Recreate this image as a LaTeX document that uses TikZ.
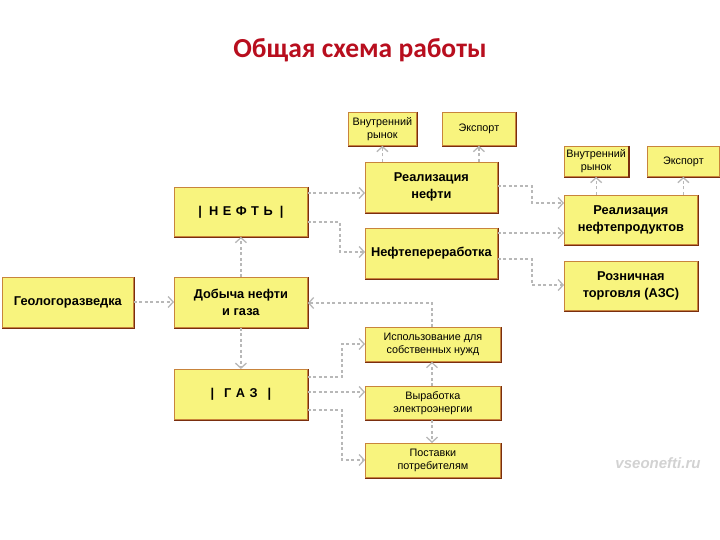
\documentclass[tikz,border=0pt]{standalone}
\usepackage{fontspec}
\setmainfont{Liberation Sans}
\newfontfamily\titlefont{Carlito}
\usetikzlibrary{arrows.meta}
\definecolor{boxfill}{HTML}{F8F47E}
\definecolor{boxline}{HTML}{C8843C}
\definecolor{boxshade}{HTML}{7A2E0E}
\definecolor{conn}{HTML}{B8B8B8}
\definecolor{titlered}{HTML}{B80E1E}
\definecolor{wmark}{HTML}{D2D2D2}
\tikzset{
  box/.style={draw=boxline, fill=boxfill, line width=0.8pt, anchor=north west,
    align=center, inner sep=2pt},
  bigtxt/.style={font=\fontsize{12.8}{17}\selectfont\bfseries},
  smalltxt/.style={font=\fontsize{10.8}{13}\selectfont},
  link/.style={draw=conn, line width=1.2pt, dash pattern=on 3pt off 2.5pt,
    -{Straight Barb[length=5pt,width=11pt,line width=1.3pt]}},
}
\newcommand{\mkbox}[7]{%
  \node[box,#1,minimum width=#4pt,minimum height=#5pt] (#2) at (#3) {#6};
  \draw[boxshade,line width=1.2pt] ([xshift=0.6pt]#2.north east) -- ([xshift=0.6pt,yshift=-0.6pt]#2.south east) -- ([yshift=-0.6pt]#2.south west);
}
\begin{document}
\begin{tikzpicture}[x=1pt,y=-1pt]
\useasboundingbox (0,0) rectangle (720,540);
\fill[white] (0,0) rectangle (720,540);
\node[font=\titlefont\fontsize{27.5}{32}\selectfont\bfseries, text=titlered] (title) at (360,50) {Общая схема работы};

\mkbox{smalltxt}{vra}{348,112}{68}{33}{Внутренний\\рынок}{}
\mkbox{smalltxt}{exa}{442,112}{73}{33}{Экспорт}{}
\mkbox{bigtxt}{rn}{365,162}{132}{50}{Реализация\\нефти}{}
\mkbox{smalltxt}{vrb}{564,146}{60}{30}{Внутренний\\рынок}{}
\mkbox{smalltxt}{exb}{647,146}{72}{30}{Экспорт}{}
\mkbox{bigtxt}{rnp}{564,195}{133}{49}{Реализация\\нефтепродуктов}{}
\mkbox{bigtxt}{rt}{564,261}{133}{49}{Розничная\\торговля (АЗС)}{}
\mkbox{bigtxt}{neft}{174,187}{133}{49}{|\hspace{7pt}Н\hspace{4.5pt}Е\hspace{4.5pt}Ф\hspace{4.5pt}Т\hspace{4.5pt}Ь\hspace{7pt}|}{}
\mkbox{bigtxt}{np}{365,228}{132}{50}{Нефтепереработка}{}
\mkbox{bigtxt}{geo}{2,277}{131}{50}{Геологоразведка}{}
\mkbox{bigtxt}{dob}{174,277}{133}{50}{Добыча нефти\\и газа}{}
\mkbox{smalltxt}{isp}{365,327}{135}{34}{Использование для\\собственных нужд}{}
\mkbox{bigtxt}{gaz}{174,369}{133}{50}{|\hspace{10pt}Г\hspace{4.5pt}А\hspace{4.5pt}З\hspace{10pt}|}{}
\mkbox{smalltxt}{vyr}{365,386}{135}{33}{Выработка\\электроэнергии}{}
\mkbox{smalltxt}{pos}{365,443}{135}{34}{Поставки\\потребителям}{}

\node[font=\fontsize{15}{17}\selectfont\bfseries\itshape, text=wmark] (wm) at (658,463) {vseonefti.ru};

% connectors
\draw[link] (geo.east |- 0,302) -- (dob.west |- 0,302);
\draw[link] (dob.north) -- (neft.south);
\draw[link] (dob.south) -- (gaz.north);
\draw[link] (neft.east |- 0,193) -- (rn.west |- 0,193);
\draw[link] (neft.east |- 0,222) -- (340,222) -- (340,252) -- (np.west |- 0,252);
\draw[link] (vra.south |- rn.north) -- (vra.south);
\draw[link] (exa.south |- rn.north) -- (exa.south);
\draw[link] (rn.east |- 0,186) -- (532,186) -- (532,203) -- (rnp.west |- 0,203);
\draw[link] (np.east |- 0,233) -- (rnp.west |- 0,233);
\draw[link] (np.east |- 0,259) -- (532,259) -- (532,285) -- (rt.west |- 0,285);
\draw[link] (vrb.south |- rnp.north) -- (vrb.south);
\draw[link] (exb.south |- rnp.north) -- (exb.south);
\draw[link] (432,327) -- (432,303) -- (dob.east |- 0,303);
\draw[link] (gaz.east |- 0,377) -- (342,377) -- (342,344) -- (isp.west |- 0,344);
\draw[link] (gaz.east |- 0,392) -- (vyr.west |- 0,392);
\draw[link] (gaz.east |- 0,410) -- (342,410) -- (342,460) -- (pos.west |- 0,460);
\draw[link] (vyr.north -| 432,0) -- (isp.south -| 432,0);
\draw[link] (vyr.south -| 432,0) -- (pos.north -| 432,0);
\end{tikzpicture}
\end{document}
